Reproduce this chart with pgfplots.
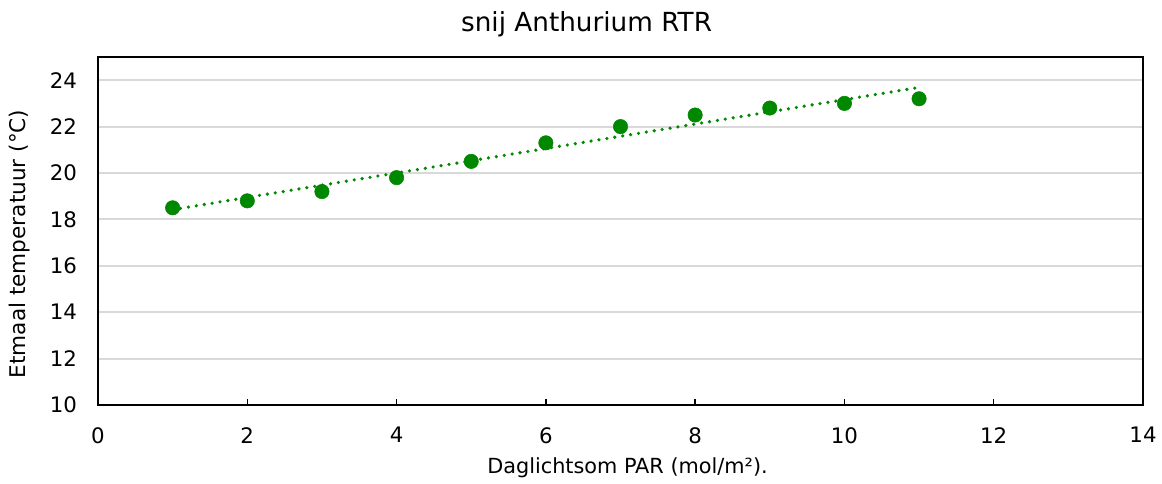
\documentclass[border=0pt]{standalone}
\usepackage{pgfplots}
\pgfplotsset{compat=1.18}
\usepackage{fontspec}
\setmainfont{DejaVu Sans}
\definecolor{exgreen}{RGB}{0,136,0}
\definecolor{gridgray}{RGB}{217,217,217}
\begin{document}
\begin{tikzpicture}[x=1pt,y=1pt]
\useasboundingbox (-73.5,-58.5) rectangle (798,303.75);
\begin{axis}[
  at={(0,0)}, anchor=south west,
  scale only axis,
  width=783.75pt, height=261pt,
  xmin=0, xmax=14, ymin=10, ymax=25,
  xtick={0,2,...,14},
  ytick={10,12,...,24},
  axis line style={black, line width=1.1pt},
  xtick pos=bottom, ytick pos=left,
  tick align=inside,
  major tick length=4.5pt,
  xtick style={black, line width=1pt},
  ytick style={draw=none},
  ymajorgrids,
  grid style={gridgray, line width=1.5pt},
  ticklabel style={font=\fontsize{16}{19}\selectfont},
  xticklabel style={inner sep=0pt, anchor=north, yshift=-16.5pt},
  yticklabel style={inner sep=0pt, anchor=east, xshift=-15.5pt},
  /pgf/number format/assume math mode=true,
  title={snij Anthurium RTR},
  title style={at={(axis description cs:0.4675,1.1006)}, anchor=center, yshift=-7.5pt, inner sep=0pt, font=\fontsize{19.7}{23}\selectfont},
  xlabel={Daglichtsom PAR (mol/m²).},
  xlabel style={at={(axis description cs:0.5067,-0.181)}, anchor=center, inner sep=0pt, font=\fontsize{15.6}{19}\selectfont},
  ylabel={Etmaal temperatuur (°C)},
  ylabel style={at={(axis description cs:-0.0746,0.4626)}, anchor=center, inner sep=0pt, font=\fontsize{16.2}{19}\selectfont},
  clip=false,
]
\addplot[exgreen, line width=2.7pt, line cap=round, dash pattern=on 0pt off 6pt] coordinates {(1,18.42) (11,23.69)};
\addplot[only marks, mark=*, mark size=5.4pt, exgreen, mark options={draw=exgreen, fill=exgreen}] coordinates {
(1,18.5) (2,18.8) (3,19.2) (4,19.8) (5,20.5) (6,21.3) (7,22.0) (8,22.5) (9,22.8) (10,23.0) (11,23.2)
};
\end{axis}
\end{tikzpicture}
\end{document}
